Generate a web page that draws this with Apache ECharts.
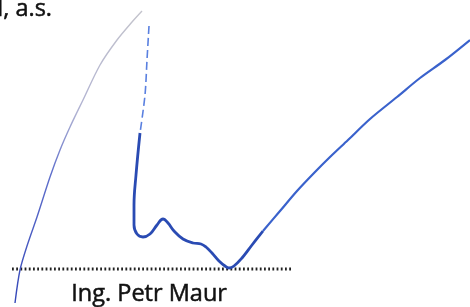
<!DOCTYPE html>
<html>
<head>
<meta charset="utf-8">
<script src="https://cdn.jsdelivr.net/npm/echarts@6/dist/echarts.min.js"></script>
<style>
  html, body { margin: 0; padding: 0; background: #fff; }
  #main { width: 470px; height: 307px; }
</style>
</head>
<body>
<div id="main"></div>
<script>
// stroke points, [x, y] in page units (y grows downward)
var leftStroke = [
  [15, 303], [20, 270], [28, 243], [37, 217], [50, 177], [60, 150], [70, 127],
  [83, 100], [100, 65], [117, 40], [132, 22], [142, 11]
];
var downStrokeFaint = [[149, 26], [147, 60], [145, 95], [140, 133]];
var mainStroke = [
  [140, 133], [136, 175], [134, 205], [134, 225], [137, 234], [143, 237], [150, 234],
  [157, 225], [163, 219], [168, 223], [174, 231], [183, 239], [193, 243], [201, 244],
  [206, 247], [212, 253], [219, 261], [225, 266], [229, 268], [234, 266], [242, 258],
  [252, 245], [263, 231]
];
var rightStroke = [
  [263, 231], [280, 211], [297, 191], [315, 172], [330, 157], [348, 140], [370, 119],
  [397, 97], [420, 78], [445, 60], [470, 40]
];
var baseLine = [[12, 269], [292, 269]];

var nameText = 'Ing. Petr Maur';
var topText = 'l, a.s.';

var chart = echarts.init(document.getElementById('main'));

var option = {
  animation: false,
  backgroundColor: '#ffffff',
  grid: { left: 0, right: 0, top: 0, bottom: 0 },
  xAxis: { type: 'value', min: 0, max: 470, show: false },
  yAxis: { type: 'value', min: 0, max: 307, inverse: true, show: false },
  series: [
    {
      type: 'line',
      data: baseLine,
      symbol: 'none',
      lineStyle: { color: '#222222', width: 2.8, type: [1.8, 2.4] }
    },
    {
      type: 'line',
      data: leftStroke,
      smooth: 0.3,
      symbol: 'none',
      lineStyle: {
        width: 1.4,
        color: new echarts.graphic.LinearGradient(0, 0, 0, 1, [
          { offset: 0, color: '#c4c4cc' },
          { offset: 0.35, color: '#b0b2d2' },
          { offset: 0.55, color: '#6070cc' },
          { offset: 1, color: '#3346b8' }
        ])
      }
    },
    {
      type: 'line',
      data: downStrokeFaint,
      smooth: 0.3,
      symbol: 'none',
      lineStyle: { color: '#5a80e0', width: 1.6, type: [8, 4] }
    },
    {
      type: 'line',
      data: mainStroke,
      smooth: 0.4,
      symbol: 'none',
      lineStyle: { color: '#2a4bb3', width: 2.8 }
    },
    {
      type: 'line',
      data: rightStroke,
      smooth: 0.3,
      symbol: 'none',
      lineStyle: { color: '#3a62cc', width: 2.2 }
    }
  ],
  graphic: [
    {
      type: 'text',
      left: 71,
      top: 282,
      style: {
        text: nameText,
        font: '23.5px "Open Sans"',
        fill: '#111111',
        stroke: '#111111',
        lineWidth: 0.5
      }
    },
    {
      type: 'text',
      x: 52,
      y: -3,
      style: {
        text: topText,
        font: '23.5px "Open Sans"',
        fill: '#111111',
        stroke: '#111111',
        lineWidth: 0.5,
        align: 'right'
      }
    }
  ]
};

chart.setOption(option);
</script>
</body>
</html>
